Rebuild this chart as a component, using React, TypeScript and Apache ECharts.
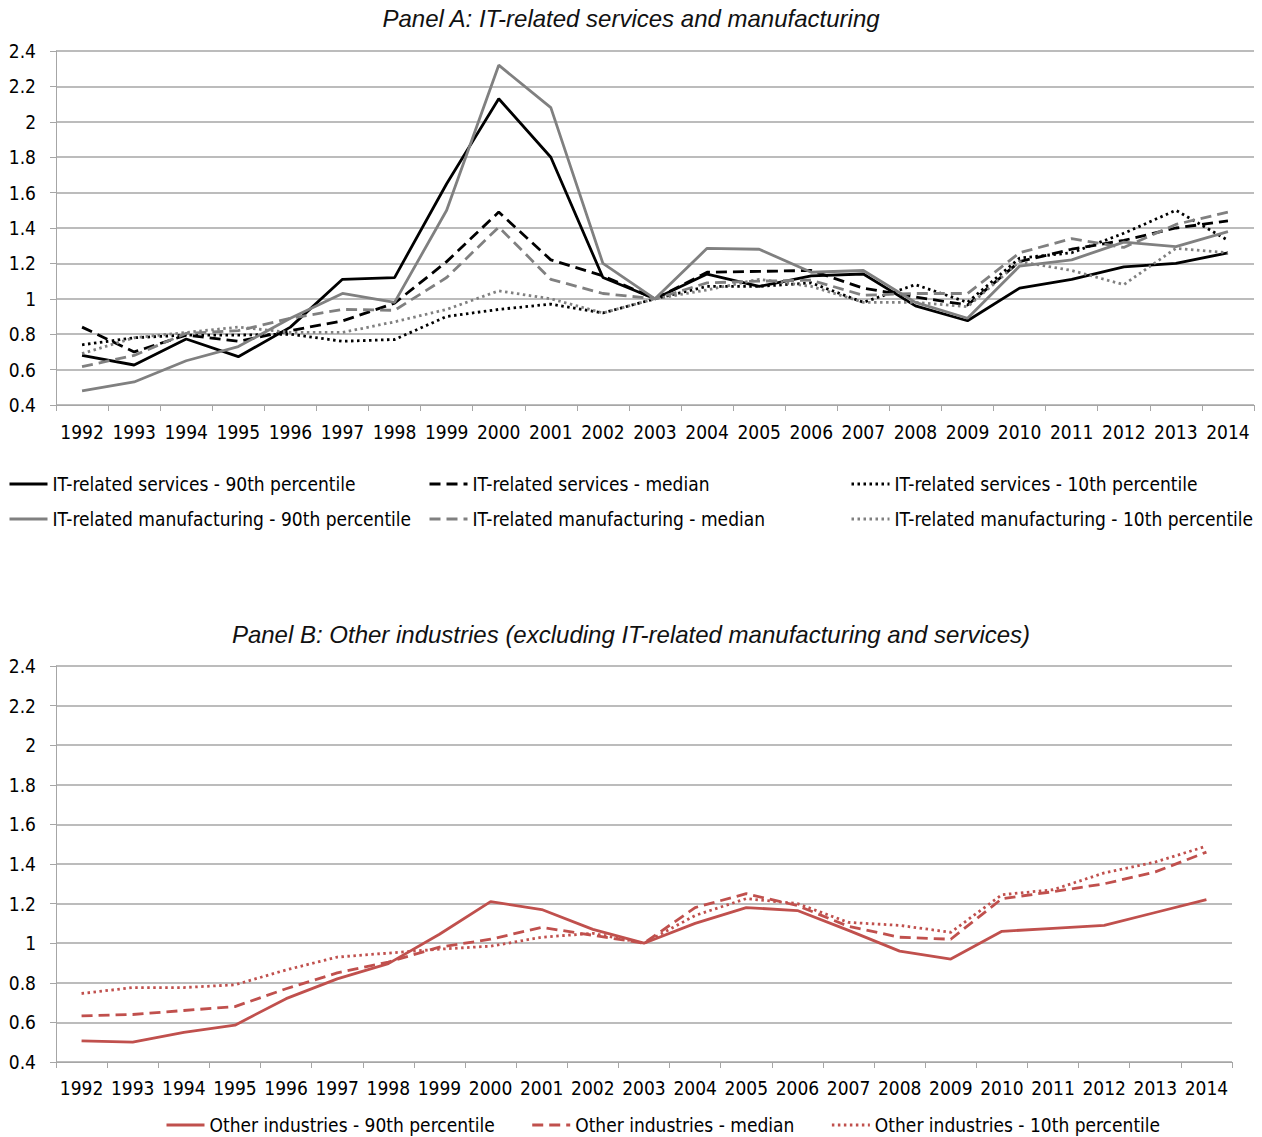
import React, { useEffect, useRef } from "react";
import * as echarts from "echarts";

const years = ["1992","1993","1994","1995","1996","1997","1998","1999","2000","2001","2002","2003","2004","2005","2006","2007","2008","2009","2010","2011","2012","2013","2014"];

// Panel A
const svc90 = [0.68,0.626,0.773,0.673,0.84,1.11,1.12,1.65,2.13,1.8,1.12,1.0,1.14,1.07,1.13,1.14,0.96,0.876,1.06,1.11,1.18,1.2,1.26];
const svcMed = [0.84,0.7,0.795,0.76,0.82,0.875,0.975,1.21,1.49,1.22,1.13,1.0,1.15,1.155,1.16,1.06,1.01,0.965,1.21,1.28,1.33,1.4,1.44];
const svc10 = [0.74,0.78,0.795,0.795,0.8,0.76,0.77,0.9,0.94,0.97,0.92,1.0,1.07,1.07,1.09,0.98,1.08,0.98,1.23,1.26,1.37,1.5,1.33];
const mfg90 = [0.48,0.53,0.65,0.73,0.89,1.03,0.98,1.5,2.32,2.08,1.2,1.0,1.285,1.28,1.15,1.16,0.98,0.89,1.185,1.22,1.32,1.295,1.38];
const mfgMed = [0.617,0.68,0.805,0.82,0.89,0.94,0.935,1.12,1.405,1.11,1.03,1.0,1.09,1.1,1.105,1.02,1.03,1.03,1.26,1.34,1.29,1.42,1.49];
const mfg10 = [0.69,0.78,0.81,0.84,0.81,0.81,0.87,0.94,1.045,1.0,0.92,1.0,1.05,1.11,1.07,0.98,0.98,0.955,1.21,1.16,1.08,1.285,1.26];

// Panel B
const oth90 = [0.507,0.5,0.55,0.586,0.72,0.82,0.897,1.045,1.21,1.17,1.07,1.0,1.1,1.18,1.165,1.065,0.96,0.92,1.06,1.075,1.09,1.155,1.22];
const othMed = [0.633,0.64,0.66,0.68,0.77,0.85,0.905,0.98,1.02,1.08,1.04,1.0,1.18,1.25,1.19,1.085,1.03,1.02,1.225,1.26,1.3,1.36,1.46];
const oth10 = [0.746,0.776,0.776,0.79,0.865,0.93,0.95,0.97,0.985,1.03,1.05,1.0,1.14,1.225,1.2,1.105,1.09,1.055,1.245,1.27,1.355,1.41,1.49];

const FONT = "'Liberation Sans Narrow', 'DejaVu Sans Condensed', sans-serif";
const TITLE_FONT = "'Liberation Sans', Arial, sans-serif";
const BLACK = "#000000";
const GRAY = "#808080";
const RED = "#c0504d";
const GRID = "#a6a6a6";

const SOLID = "solid";
const DASH = [11, 6];
const DOT = [2.5, 3.5];

function mkSeries(name: string, data: number[], color: string, type: any, idx: number) {
  return {
    name,
    type: "line",
    data,
    xAxisIndex: idx,
    yAxisIndex: idx,
    symbol: "none",
    showSymbol: false,
    lineStyle: { color, width: 2.8, type },
    itemStyle: { color },
    emphasis: { disabled: true },
  };
}

function mkX(gridIndex: number, margin: number) {
  return {
    type: "category",
    gridIndex,
    data: years,
    boundaryGap: true,
    axisLine: { show: true, lineStyle: { color: GRID, width: 1 } },
    axisTick: { show: true, interval: 0, length: 6, lineStyle: { color: GRID } },
    axisLabel: { interval: 0, margin, color: BLACK, fontSize: 19, fontFamily: FONT },
    splitLine: { show: false },
  };
}

function mkY(gridIndex: number) {
  return {
    type: "value",
    gridIndex,
    min: 0.4,
    max: 2.4,
    interval: 0.2,
    axisLine: { show: true, lineStyle: { color: GRID, width: 1 } },
    axisTick: { show: true, length: 6, lineStyle: { color: GRID } },
    axisLabel: {
      margin: 20,
      color: BLACK,
      fontSize: 19,
      fontFamily: FONT,
      formatter: (v: number) => String(Number(v.toFixed(1))),
    },
    splitLine: { show: true, lineStyle: { color: GRID, width: 1.5 } },
  };
}

const legendBase = {
  orient: "vertical",
  padding: 0,
  itemWidth: 38,
  itemHeight: 20,
  itemGap: 15,
  itemStyle: { opacity: 0 },
  lineStyle: { width: 3 },
  textStyle: { color: BLACK, fontSize: 19, fontFamily: FONT, lineHeight: 20 },
  selectedMode: false,
};

export default function App() {
  const ref = useRef<HTMLDivElement>(null);
  useEffect(() => {
    if (!ref.current) return;
    const chart = echarts.init(ref.current, undefined, { renderer: "svg" });
    const names = {
      s90: "IT-related services - 90th percentile",
      sMed: "IT-related services - median",
      s10: "IT-related services - 10th percentile",
      m90: "IT-related manufacturing - 90th percentile",
      mMed: "IT-related manufacturing - median",
      m10: "IT-related manufacturing - 10th percentile",
      o90: "Other industries - 90th percentile",
      oMed: "Other industries - median",
      o10: "Other industries - 10th percentile",
    };
    chart.setOption({
      animation: false,
      backgroundColor: "#ffffff",
      title: [
        {
          text: "Panel A: IT-related services and manufacturing",
          left: "center",
          top: 1,
          textStyle: { fontStyle: "italic", fontWeight: "normal", fontSize: 24, fontFamily: TITLE_FONT, color: "#111" },
        },
        {
          text: "Panel B: Other industries (excluding IT-related manufacturing and services)",
          left: "center",
          top: 617,
          textStyle: { fontStyle: "italic", fontWeight: "normal", fontSize: 24, fontFamily: TITLE_FONT, color: "#111" },
        },
      ],
      grid: [
        { left: 56, right: 8, top: 51, bottom: 1137 - 405, containLabel: false },
        { left: 56, right: 30, top: 666, bottom: 1137 - 1062, containLabel: false },
      ],
      xAxis: [mkX(0, 17), mkX(1, 16)],
      yAxis: [mkY(0), mkY(1)],
      legend: [
        { ...legendBase, left: 8, top: 474, data: [names.s90, names.m90] },
        { ...legendBase, left: 428, top: 474, data: [names.sMed, names.mMed] },
        { ...legendBase, left: 850, top: 474, data: [names.s10, names.m10] },
        {
          ...legendBase,
          orient: "horizontal",
          left: 165,
          top: 1115,
          itemGap: 36,
          data: [names.o90, names.oMed, names.o10],
        },
      ],
      series: [
        mkSeries(names.s90, svc90, BLACK, SOLID, 0),
        mkSeries(names.sMed, svcMed, BLACK, DASH, 0),
        mkSeries(names.s10, svc10, BLACK, DOT, 0),
        mkSeries(names.m90, mfg90, GRAY, SOLID, 0),
        mkSeries(names.mMed, mfgMed, GRAY, DASH, 0),
        mkSeries(names.m10, mfg10, GRAY, DOT, 0),
        mkSeries(names.o90, oth90, RED, SOLID, 1),
        mkSeries(names.oMed, othMed, RED, DASH, 1),
        mkSeries(names.o10, oth10, RED, DOT, 1),
      ],
    });
    return () => chart.dispose();
  }, []);
  return (
    <div
      ref={ref}
      style={{ position: "absolute", left: 0, top: 0, width: 1262, height: 1137, background: "#fff" }}
    />
  );
}
